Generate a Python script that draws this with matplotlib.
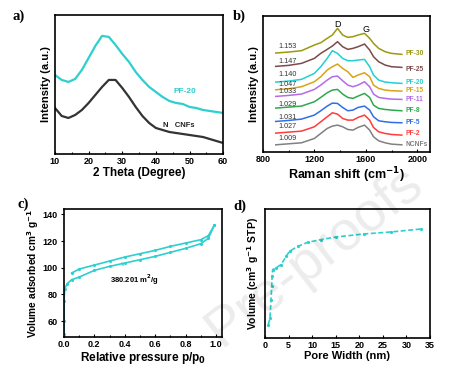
"""
Four-panel characterisation figure: XRD, Raman, N2 isotherm, pore volume.
Output: out.png
"""
import matplotlib
matplotlib.use("Agg")
import matplotlib.pyplot as plt

plt.rcParams["font.family"] = ["Liberation Sans", "DejaVu Sans"]
plt.rcParams["font.weight"] = "bold"
plt.rcParams["mathtext.default"] = "bf"

CYAN = "#2ecfcf"

# a) XRD
xrd_theta = [10, 12, 14, 16, 18, 20, 22, 24, 26, 28, 30, 32, 34, 36, 38, 40, 42, 44, 46, 48, 50, 52, 54, 56, 58, 60]
xrd_pf20 = [79, 74, 72, 75, 84, 96, 108, 118, 117, 109, 100, 92, 82, 74, 67, 62, 57, 53, 51, 50, 47, 46, 44, 43, 42, 41]
xrd_cnfs = [46, 38, 36, 39, 44, 51, 59, 67, 74, 74, 66, 57, 47, 38, 31, 26, 24, 22, 21, 20, 19, 18, 17, 15, 13, 11]

# b) Raman (curve values are in pixel-like units, smaller = higher)
raman_shift = [900, 1000, 1100, 1200, 1250, 1300, 1340, 1380, 1420, 1460, 1500, 1540, 1590, 1630, 1660, 1700, 1750, 1800, 1880]
raman_names = ["NCNFs", "PF-2", "PF-5", "PF-8", "PF-11", "PF-15", "PF-20", "PF-25", "PF-30"]
raman_colors = ["#808080", "#ff3b3b", "#2f6fe6", "#2ea84e", "#b46be8", "#d8a317", "#22cfd2", "#7d4a4a", "#9a9a10"]
raman_ratio = ["1.009", "1.027", "1.031", "1.029", "1.033", "1.047", "1.140", "1.147", "1.153"]
raman_curves = [
    [374, 371, 368, 355, 340, 325, 318, 315, 320, 328, 330, 322, 315, 330, 350, 362, 368, 372, 374],
    [339, 336, 333, 320, 305, 290, 278, 282, 295, 300, 300, 292, 285, 300, 322, 335, 340, 343, 345],
    [304, 301, 297, 285, 272, 258, 249, 250, 262, 272, 270, 262, 258, 270, 290, 302, 305, 307, 308],
    [264, 261, 258, 245, 232, 218, 210, 208, 222, 232, 235, 228, 220, 232, 255, 265, 268, 270, 272],
    [229, 226, 222, 208, 195, 180, 170, 168, 182, 195, 200, 195, 185, 200, 222, 232, 235, 237, 238],
    [209, 206, 200, 185, 170, 150, 140, 132, 145, 155, 172, 165, 158, 170, 195, 205, 210, 212, 213],
    [186, 183, 178, 160, 140, 115, 92, 100, 115, 122, 122, 120, 118, 140, 165, 180, 186, 188, 190],
    [139, 136, 130, 115, 100, 88, 78, 65, 80, 88, 85, 80, 72, 90, 110, 125, 135, 140, 142],
    [99, 96, 92, 75, 68, 55, 45, 25, 45, 52, 50, 45, 40, 55, 70, 85, 95, 100, 103],
]
raman_ratio_y = [355, 318, 292, 253, 214, 193, 163, 125, 80]
raman_label_y = [144, 133.3, 122, 110, 99.3, 90.7, 82.7, 69, 53.3]

# c) N2 isotherm
ads_p = [0.0, 0.0, 0.0, 0.005, 0.02, 0.05, 0.1, 0.2, 0.3, 0.4, 0.5, 0.6, 0.7, 0.8, 0.9, 0.95, 0.99]
ads_v = [50, 60, 75, 84, 88, 91, 93, 98, 101, 103.5, 106, 108.5, 111.5, 114.5, 118, 122, 132]
des_p = [0.99, 0.95, 0.9, 0.8, 0.7, 0.6, 0.5, 0.4, 0.3, 0.2, 0.1, 0.05]
des_v = [132, 124, 121, 118.5, 116, 113, 110.5, 108, 105, 102, 99, 96]

# d) cumulative pore volume
pore_w = [0.7, 1.06, 1.28, 1.42, 1.5, 1.63, 2.3, 3.4, 4.5, 5.2, 7.0, 9.1, 11.9, 15.1, 21.1, 26.8, 33.2]
pore_v = [40, 60, 115, 155, 185, 205, 210, 220, 245, 260, 275, 287, 295, 303, 312, 318, 327]

fig = plt.figure(figsize=(4.62, 3.72), dpi=100)
ax_a = fig.add_axes([0.119, 0.586, 0.364, 0.374])
ax_b = fig.add_axes([0.569, 0.591, 0.362, 0.366])
ax_c = fig.add_axes([0.1385, 0.094, 0.342, 0.344])
ax_d = fig.add_axes([0.5736, 0.0914, 0.357, 0.347])

for ax in (ax_a, ax_b, ax_c, ax_d):
    for s in ax.spines.values():
        s.set_linewidth(1.2)
    ax.tick_params(axis="both", which="both", direction="in", labelsize=6.5, width=0.8, length=2.5, pad=2)
    ax.tick_params(which="minor", length=1.5)

# a
ax_a.plot(xrd_theta, xrd_pf20, color=CYAN, lw=1.6)
ax_a.plot(xrd_theta, xrd_cnfs, color="#333333", lw=1.6)
ax_a.set_xlim(10, 60)
ax_a.set_ylim(0, 139)
ax_a.set_yticks([])
ax_a.set_xticks([10, 20, 30, 40, 50, 60])
ax_a.set_xticks([15, 25, 35, 45, 55], minor=True)
ax_a.set_xlabel("2 Theta (Degree)", fontsize=8.5, fontweight="bold", labelpad=1)
ax_a.set_ylabel("Intensity (a.u.)", fontsize=8, fontweight="bold", labelpad=3)
ax_a.text(48.7, 62, "PF-20", color=CYAN, fontsize=6, fontweight="bold", ha="center", va="center")
ax_a.text(42.1, 28, "N   CNFs", color="#222222", fontsize=5.5, fontweight="bold", ha="left", va="center")

# b
for name, col, ratio, vals, ry, ly in zip(raman_names, raman_colors, raman_ratio,
                                        raman_curves, raman_ratio_y, raman_label_y):
    ax_b.plot(raman_shift, [132 - v / 3 for v in vals], color=col, lw=1.1)
    ax_b.text(990, 132 - ry / 3, ratio, color="#333333", fontsize=5.2, ha="center", va="center",
              fontweight="normal")
    ax_b.text(1905, 152 - ly, name, color=col, fontsize=4.8, fontweight="bold", ha="left", va="center")
ax_b.text(1378, 152 - 24, "D", fontsize=6.5, fontweight="normal", ha="center", va="center")
ax_b.text(1600, 152 - 29, "G", fontsize=6.5, fontweight="normal", ha="center", va="center")
ax_b.set_xlim(800, 2100)
ax_b.set_ylim(0, 136)
ax_b.set_yticks([])
ax_b.set_xticks([800, 1200, 1600, 2000])
ax_b.set_xticks([1000, 1400, 1800], minor=True)
ax_b.set_xlabel("Raman shift (cm$^{-1}$)", fontsize=9, fontweight="bold", labelpad=1)
ax_b.set_ylabel("Intensity (a.u.)", fontsize=8, fontweight="bold", labelpad=3)

# c
ax_c.plot(ads_p, ads_v, color=CYAN, lw=1.2, marker="o", ms=1.2)
ax_c.plot(des_p, des_v, color=CYAN, lw=1.2, marker="o", ms=1.2)
ax_c.set_xlim(0.0, 1.04)
ax_c.set_ylim(48, 144)
ax_c.set_xticks([0.0, 0.2, 0.4, 0.6, 0.8, 1.0])
ax_c.set_xticks([0.1, 0.3, 0.5, 0.7, 0.9], minor=True)
ax_c.set_yticks([60, 80, 100, 120, 140])
ax_c.tick_params(axis="y", direction="out")
ax_c.set_xlabel("Relative pressure p/p$_0$", fontsize=8.5, fontweight="bold", labelpad=1)
ax_c.set_ylabel("Volume adsorbed cm$^3$ g$^{-1}$", fontsize=7.3, fontweight="bold", labelpad=1)
ax_c.annotate("380.201 m$^2$/g", xy=(0.38, 103.5), xytext=(0.46, 91), fontsize=5.5,
              fontweight="bold", ha="center", va="center",
              arrowprops=dict(arrowstyle="-", color=CYAN, lw=1.0, shrinkA=4, shrinkB=0))

# d
ax_d.plot(pore_w, pore_v, color=CYAN, lw=1.2, ls=(0, (3, 1.5)), marker="o", ms=1.3)
ax_d.set_xlim(0, 35)
ax_d.set_ylim(0, 387)
ax_d.set_yticks([])
ax_d.set_xticks(range(0, 36, 5))
ax_d.set_xlabel("Pore Width (nm)", fontsize=8, fontweight="bold", labelpad=1)
ax_d.set_ylabel("Volume (cm$^3$ g$^{-1}$ STP)", fontsize=7.5, fontweight="bold", labelpad=3)

# panel letters
for x, y, t in [(0.026, 0.955, "a)"), (0.505, 0.955, "b)"), (0.038, 0.452, "c)"), (0.505, 0.445, "d)")]:
    fig.text(x, y, t, fontsize=10.5, fontweight="bold", family="Liberation Serif", ha="left", va="center")

# faint watermark
fig.text(0.68, 0.31, "Pre-proofs", fontsize=40, color="#000000", alpha=0.08, rotation=38,
         ha="center", va="center", fontweight="normal")

fig.savefig("out.png", dpi=100)
